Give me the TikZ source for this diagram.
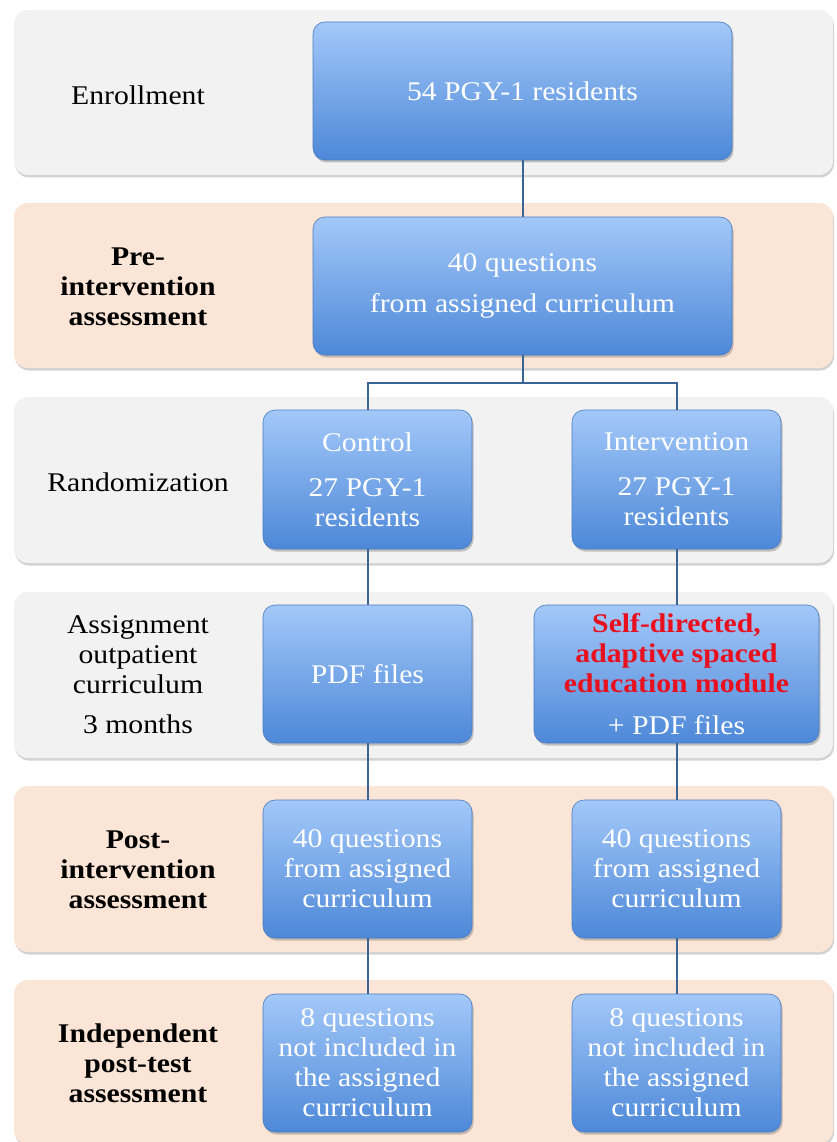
\documentclass[tikz,border=0pt]{standalone}
\usepackage{fontspec}
\setmainfont[FakeStretch=1.1]{Liberation Serif}
\usetikzlibrary{shadows}
\definecolor{bandgray}{HTML}{F2F2F2}
\definecolor{bandpeach}{HTML}{FBE5D6}
\definecolor{boxtop}{HTML}{A3C8F9}
\definecolor{boxbot}{HTML}{4D88D8}
\definecolor{boxedge}{HTML}{4A7CC0}
\definecolor{linkcol}{HTML}{3B6496}
\definecolor{redtxt}{HTML}{E8101E}
\begin{document}
\begin{tikzpicture}[x=1pt,y=-1pt,
  band/.style={rounded corners=14pt, minimum width=819pt, inner sep=0pt,
    drop shadow={opacity=0.35, shadow xshift=1pt, shadow yshift=-2.5pt}},
  flowbox/.style={draw=boxedge, line width=0.6pt, rounded corners=12pt,
    top color=boxtop, bottom color=boxbot, text=white, align=center,
    inner sep=0pt, minimum height=138pt,
    drop shadow={opacity=0.45, shadow xshift=1.5pt, shadow yshift=-2.5pt},
    font=\fontsize{27}{30}\selectfont},
  lab/.style={align=center, font=\fontsize{27}{30}\selectfont, text=black},
  blab/.style={lab, font=\fontsize{27}{30}\selectfont\bfseries},
  link/.style={draw=linkcol, line width=2pt}]
\useasboundingbox[fill=white] (0,0) rectangle (836,1142);
% bands
\node[band, fill=bandgray,  minimum height=165pt] (band1) at (423.5,92.5) {};
\node[band, fill=bandpeach, minimum height=165pt] (band2) at (423.5,285.5) {};
\node[band, fill=bandgray,  minimum height=166pt] (band3) at (423.5,480) {};
\node[band, fill=bandgray,  minimum height=166pt] (band4) at (423.5,675) {};
\node[band, fill=bandpeach, minimum height=166pt] (band5) at (423.5,869) {};
\node[band, fill=bandpeach, minimum height=164pt] (band6) at (423.5,1062) {};
% left labels
\node[lab]  (l1) at (138,95)  {Enrollment};
\node[blab] (l2) at (138,287) {Pre-\\intervention\\assessment};
\node[lab]  (l3) at (138,482) {Randomization};
\node[lab]  (l4) at (138,675) {Assignment\\outpatient\\curriculum\\[10pt]3 months};
\node[blab] (l5) at (138,870) {Post-\\intervention\\assessment};
\node[blab] (l6) at (138,1063) {Independent\\post-test\\assessment};
% boxes
\node[flowbox, minimum width=419pt] (b1) at (522.5,91) {54 PGY-1 residents};
\node[flowbox, minimum width=419pt] (b2) at (522.5,286) {40 questions\\[11pt]from assigned curriculum};
\node[flowbox, minimum width=209pt, minimum height=139pt] (ctrl) at (367.5,479.5) {Control\\[15pt]27 PGY-1\\residents};
\node[flowbox, minimum width=209pt, minimum height=139pt] (intv) at (676.5,479.5) {Intervention\\[15pt]27 PGY-1\\residents};
\node[flowbox, minimum width=209pt] (pdf) at (367.5,674) {PDF files};
\node[flowbox, minimum width=285pt] (sd) at (676.5,674) {{\color{redtxt}\bfseries Self-directed,}\\{\color{redtxt}\bfseries adaptive spaced}\\{\color{redtxt}\bfseries education module}\\[12pt]+ PDF files};
\node[flowbox, minimum width=209pt] (post1) at (367.5,869) {40 questions\\from assigned\\curriculum};
\node[flowbox, minimum width=209pt] (post2) at (676.5,869) {40 questions\\from assigned\\curriculum};
\node[flowbox, minimum width=209pt] (ind1) at (367.5,1063) {8 questions\\not included in\\the assigned\\curriculum};
\node[flowbox, minimum width=209pt] (ind2) at (676.5,1063) {8 questions\\not included in\\the assigned\\curriculum};
% connectors
\coordinate (split) at ([yshift=-28pt]b2.south);
\draw[link] (b1.south) -- (b2.north);
\draw[link] (b2.south) -- (split) -| (ctrl.north);
\draw[link] (split) -| (intv.north);
\draw[link] (ctrl.south) -- (pdf.north);
\draw[link] (intv.south) -- (sd.north);
\draw[link] (pdf.south) -- (post1.north);
\draw[link] (sd.south) -- (post2.north);
\draw[link] (post1.south) -- (ind1.north);
\draw[link] (post2.south) -- (ind2.north);
\end{tikzpicture}
\end{document}
